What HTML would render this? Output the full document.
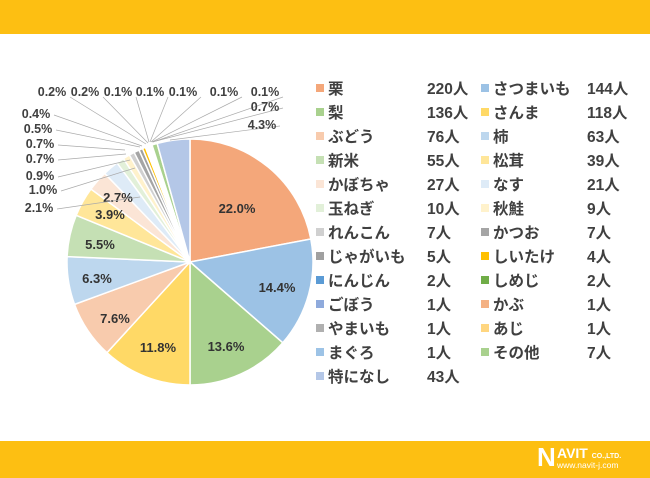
<!DOCTYPE html><html><head><meta charset="utf-8"><style>
body{margin:0;width:650px;height:478px;background:#fff;overflow:hidden;position:relative;font-family:"Liberation Sans","Noto Sans CJK JP",sans-serif;}
.band{position:absolute;left:0;width:650px;background:#fdbf12;}
svg{position:absolute;left:0;top:0}
</style></head><body>
<div class="band" style="top:0;height:34px"></div>
<div class="band" style="top:441px;height:37px"></div>
<svg width="650" height="478" id="s" font-family="Liberation Sans, Noto Sans CJK JP, sans-serif"></svg>
<div style="position:absolute;left:537px;top:444px;color:#fff;font-weight:bold;font-size:26px;line-height:26px">N</div>
<div style="position:absolute;left:557px;top:446px;color:#fff;font-weight:bold;font-size:14px;line-height:14px">AVIT <span style="font-size:7px">CO.,LTD.</span></div>
<div style="position:absolute;left:557px;top:461px;color:#fff;font-size:8.5px;line-height:9px">www.navit-j.com</div>
<script>
const NS="http://www.w3.org/2000/svg",s=document.getElementById('s');
function el(t,a,txt){const e=document.createElementNS(NS,t);for(const k in a)e.setAttribute(k,a[k]);if(txt)e.textContent=txt;s.appendChild(e);return e;}
const data=[["栗",220,"#f4a77a"],["さつまいも",144,"#9cc2e5"],["梨",136,"#a9d18e"],["さんま",118,"#ffd966"],["ぶどう",76,"#f8cbad"],["柿",63,"#bdd7ee"],["新米",55,"#c5e0b4"],["松茸",39,"#ffe699"],["かぼちゃ",27,"#fbe5d6"],["なす",21,"#deebf7"],["玉ねぎ",10,"#e2f0d9"],["秋鮭",9,"#fff2cc"],["れんこん",7,"#d0d0d0"],["かつお",7,"#a5a5a5"],["じゃがいも",5,"#a0a0a0"],["しいたけ",4,"#ffc000"],["にんじん",2,"#5b9bd5"],["しめじ",2,"#70ad47"],["ごぼう",1,"#8faadc"],["かぶ",1,"#f4b183"],["やまいも",1,"#b0b0b0"],["あじ",1,"#ffd680"],["まぐろ",1,"#9dc3e6"],["その他",7,"#a9d18e"],["特になし",43,"#b4c7e7"]];
const tot=data.reduce((a,b)=>a+b[1],0),cx=190,cy=262,r=123;let a=0;
data.forEach(d=>{const a1=a+d[1]/tot*2*Math.PI;const x0=cx+r*Math.sin(a),y0=cy-r*Math.cos(a),x1=cx+r*Math.sin(a1),y1=cy-r*Math.cos(a1);
el('path',{d:`M${cx},${cy}L${x0},${y0}A${r},${r} 0 ${a1-a>Math.PI?1:0} 1 ${x1},${y1}Z`,fill:d[2],stroke:'#fff','stroke-width':1.5});a=a1;});
const ins=[["22.0%",237,208],["14.4%",277,287],["13.6%",226,346],["11.8%",158,347],["7.6%",115,318],["6.3%",97,278],["5.5%",100,244],["3.9%",110,214],["2.7%",118,197]];
ins.forEach(t=>el('text',{x:t[1],y:t[2]+5,'text-anchor':'middle','font-size':13,'font-weight':'bold',fill:'#333'},t[0]));
const out=[["2.1%",39,207,140,197],["1.0%",43,189,135,168],["0.9%",40,175,130,160],["0.7%",40,158,126,154],["0.7%",40,143,125,150],["0.5%",38,128,140,147],["0.4%",36,113,142,146],["0.2%",52,91,146,144],["0.2%",85,91,148,143],["0.1%",118,91,149,142],["0.1%",150,91,150,142],["0.1%",183,91,151,142],["0.1%",224,91,152,142],["0.1%",265,91,153,142],["0.7%",265,106,156,141],["4.3%",262,124,170,140]];
out.forEach(t=>{const lx=t[1]+(t[2]>100?0:18),ly=t[2]+(t[2]>100?2:6);el('line',{x1:t[2]>100?t[1]+18:lx,y1:ly,x2:t[3],y2:t[4],stroke:'#aaa','stroke-width':0.7});
el('text',{x:t[1],y:t[2]+5,'text-anchor':'middle','font-size':12.5,'font-weight':'bold',fill:'#404040'},t[0]);});
data.forEach((d,i)=>{const col=i%2,row=Math.floor(i/2),y=88+row*24,x=col?485:320;
el('rect',{x:x-4,y:y-4,width:8,height:8,fill:d[2]});
el('text',{x:x+8,y:y+6,'font-size':15.5,fill:'#404040','font-weight':'bold'},d[0]);
el('text',{x:col?587:427,y:y+6,'font-size':15.5,fill:'#404040','font-weight':'bold'},d[1]+"人");});
</script>
</body></html>
